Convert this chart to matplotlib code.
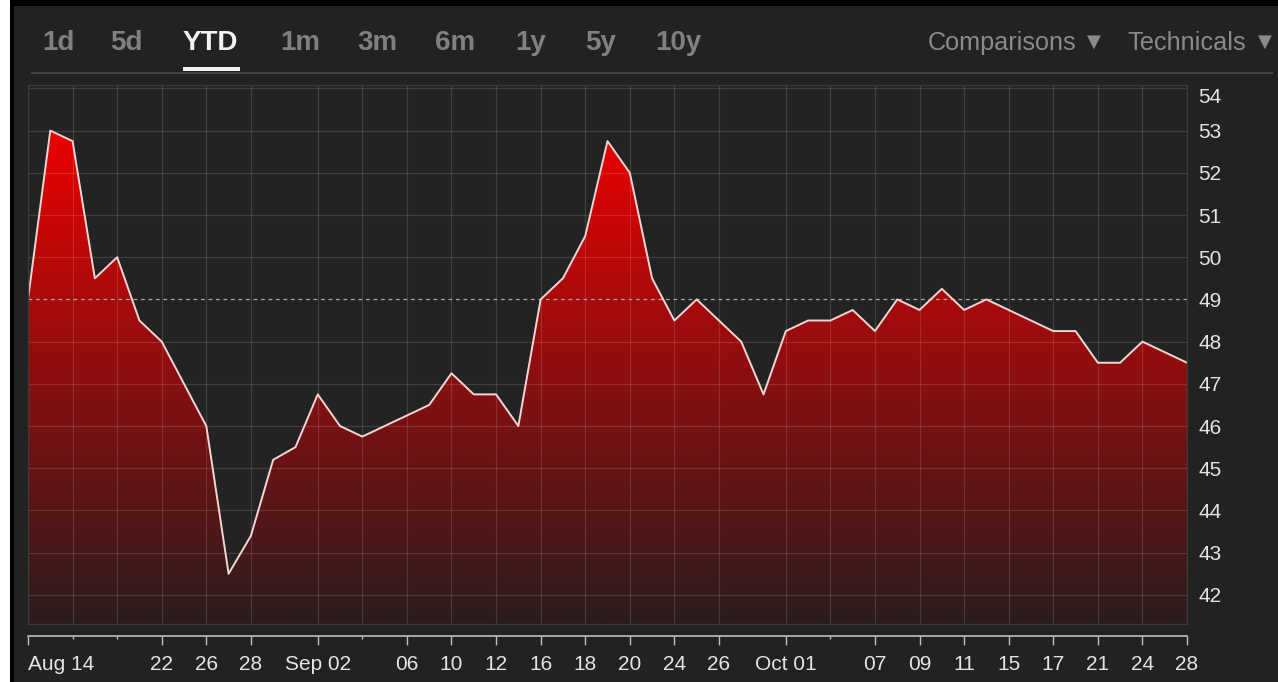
import matplotlib
matplotlib.use('Agg')
import matplotlib.pyplot as plt
import numpy as np
from matplotlib.patches import Rectangle
from matplotlib.colors import to_rgb

plt.rcParams['font.family'] = ['Liberation Sans', 'DejaVu Sans']

# daily closes, one per trading day (categorical axis)
prices = [49.0, 53.0, 52.75, 49.5, 50.0, 48.5, 48.0, 47.0, 46.0, 42.5,
          43.4, 45.2, 45.5, 46.75, 46.0, 45.75, 46.0, 46.25, 46.5, 47.25,
          46.75, 46.75, 46.0, 49.0, 49.5, 50.5, 52.75, 52.0, 49.5, 48.5,
          49.0, 48.5, 48.0, 46.75, 48.25, 48.5, 48.5, 48.75, 48.25, 49.0,
          48.75, 49.25, 48.75, 49.0, 48.75, 48.5, 48.25, 48.25, 47.5, 47.5,
          48.0, 47.75, 47.5]
prev_close = 49.0

tick_idx = [0, 6, 8, 10, 13, 17, 19, 21, 23, 25, 27, 29, 31, 34, 38, 40,
            42, 44, 46, 48, 50, 52]
tick_lbl = ['Aug 14', '22', '26', '28', 'Sep 02', '06', '10', '12', '16',
            '18', '20', '24', '26', 'Oct 01', '07', '09', '11', '15', '17',
            '21', '24', '28']
minor_idx = [2, 4, 15, 36]
y_ticks = list(range(42, 55))

periods = ['1d', '5d', 'YTD', '1m', '3m', '6m', '1y', '5y', '10y']
period_x = [42, 110, 183, 280, 357, 435, 515, 585, 655]
selected = 'YTD'

W, H = 1278, 682
fig = plt.figure(figsize=(W / 100, H / 100), dpi=100)
fig.patch.set_facecolor('#222222')

# page edges
fig.add_artist(Rectangle((0, 0), 10 / W, 1, transform=fig.transFigure,
                         facecolor='white', edgecolor='none', zorder=0))
fig.add_artist(Rectangle((10 / W, 0), 4 / W, 1, transform=fig.transFigure,
                         facecolor='black', edgecolor='none', zorder=0))
fig.add_artist(Rectangle((10 / W, 1 - 6 / H), 1, 6 / H, transform=fig.transFigure,
                         facecolor='black', edgecolor='none', zorder=0))

# tab bar
for name, px in zip(periods, period_x):
    sel = name == selected
    fig.text(px / W, 1 - 43 / H, name, ha='left', va='center', fontsize=20,
             fontweight='bold', color='#f2f2f2' if sel else '#808080')
fig.add_artist(Rectangle((183 / W, 1 - 71 / H), 57 / W, 4 / H, transform=fig.transFigure,
                         facecolor='#f0f0f0', edgecolor='none'))
fig.add_artist(plt.Line2D([32 / W, 1272 / W], [1 - 72.5 / H, 1 - 72.5 / H],
                          transform=fig.transFigure, color='#4a4a4a', lw=1.2))
for txt, tx, ax_ in [('Comparisons', 928, 1094), ('Technicals', 1127, 1265)]:
    fig.text(tx / W, 1 - 43 / H, txt, ha='left', va='center', fontsize=18.2,
             color='#8a8a8a')
    fig.text(ax_ / W, 1 - 42 / H, '\u25BC', ha='center', va='center', fontsize=13,
             color='#8a8a8a', family=['DejaVu Sans'])

ax = fig.add_axes([28 / W, 1 - 624 / H, (1187 - 28) / W, (624 - 85) / H])
ax.set_facecolor('#232323')
x = np.arange(len(prices))
ylo, yhi = 41.31, 54.08
ax.set_xlim(0, len(prices) - 1)
ax.set_ylim(ylo, yhi)

# gradient fill under the line
top_c = np.array(to_rgb('#f00000'))
bot_c = np.array(to_rgb('#2a1c1e'))
ys = np.linspace(yhi, ylo, 400)
frac = np.clip((53.3 - ys) / (53.3 - ylo), 0, 1)[:, None]
grad = (top_c * (1 - frac) + bot_c * frac)[:, None, :]
poly = ax.fill_between(x, prices, ylo, facecolor='none', edgecolor='none')
im = ax.imshow(grad, extent=[0, len(prices) - 1, ylo, yhi], aspect='auto',
               origin='upper', zorder=1, interpolation='bilinear')
im.set_clip_path(poly.get_paths()[0], transform=ax.transData)

# grid drawn over the fill
for v in y_ticks:
    if v != prev_close:
        ax.axhline(v, color='white', alpha=0.13, lw=0.9, zorder=2)
for i in sorted(tick_idx + minor_idx):
    ax.axvline(i, color='white', alpha=0.13, lw=0.9, zorder=2)
ax.axhline(prev_close, color='#a8a8a8', lw=0.9, dashes=(3, 3), zorder=3)

ax.plot(x, prices, color='#f2d6d4', lw=1.4, zorder=4)

for s in ['left', 'right', 'top']:
    ax.spines[s].set_visible(False)
ax.add_patch(Rectangle((0, 0), 1, 1, transform=ax.transAxes, fill=False,
                       edgecolor='#3a3a3a', lw=1.0, clip_on=False, zorder=5))
ax.spines['bottom'].set_position(('outward', 8.6))
ax.spines['bottom'].set_color('#bdbdbd')
ax.spines['bottom'].set_linewidth(1.2)

ax.set_xticks(tick_idx)
ax.set_xticklabels(tick_lbl)
ax.set_xticks(minor_idx, minor=True)
ax.tick_params(axis='x', which='major', direction='out', length=6.5, width=1.0,
               color='#bdbdbd', labelcolor='#e4e4e4', labelsize=15, pad=7.5)
ax.tick_params(axis='x', which='minor', direction='out', length=2, width=1.0,
               color='#bdbdbd')
ax.get_xticklabels()[0].set_horizontalalignment('left')

ax.yaxis.tick_right()
ax.set_yticks(y_ticks)
ax.tick_params(axis='y', length=0, labelcolor='#e4e4e4', labelsize=15, pad=8)
ax.get_yticklabels()[-1].set_verticalalignment('top')

fig.savefig('out.png', dpi=100, facecolor=fig.get_facecolor())
